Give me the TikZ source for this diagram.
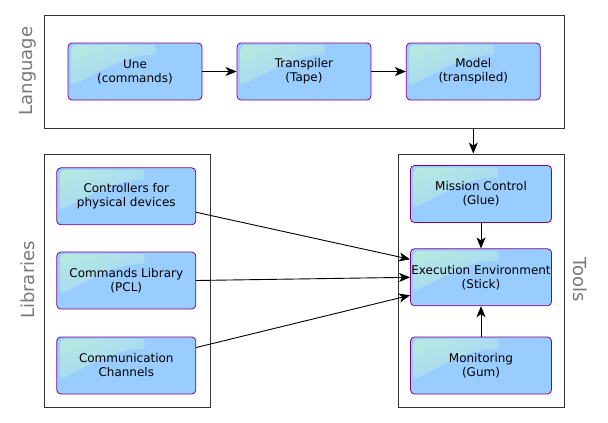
\documentclass[tikz,border=0pt]{standalone}
\usepackage{fontspec}
\setmainfont{DejaVu Sans}
\usetikzlibrary{arrows.meta, calc, shadings}
\definecolor{boxblue}{RGB}{153, 204, 255}
\definecolor{boxpurple}{RGB}{128, 0, 128}
\definecolor{shinemint}{RGB}{184, 236, 220}
\definecolor{shinesky}{RGB}{164, 214, 246}
\definecolor{shineblue}{RGB}{166, 214, 252}
\definecolor{framegray}{RGB}{51, 51, 51}
\definecolor{labelgray}{RGB}{120, 120, 120}

\begin{document}
\begin{tikzpicture}[x=1pt, y=1pt,
    module/.style={draw=boxpurple, fill=boxblue, line width=0.8pt, rounded corners=4pt,
        minimum width=134pt, minimum height=57pt, align=center, inner sep=0pt,
        font=\fontsize{12}{14}\selectfont,
        path picture={
            \shade[upper left=shinemint, upper right=shineblue, lower left=shinesky,
                lower right=boxblue, rounded corners=5pt]
                ($(path picture bounding box.north west)+(3,-43)$) -- ++(0,41) -- ++(80,0)
                arc[start angle=90, end angle=-90, radius=5]
                .. controls +(-25,-2) and +(35,18) .. cycle;
        }},
    frame/.style={draw=framegray, line width=0.8pt, inner sep=0pt},
    grouplabel/.style={text=labelgray, font=\fontsize{18}{18}\selectfont},
    link/.style={-{Stealth[length=11pt, width=9pt, inset=3pt]}, line width=0.9pt}
]
    \useasboundingbox (0,0) rectangle (608,-423);

    % Group frames
    \node[frame, minimum width=520pt, minimum height=113pt] (langframe) at (304,-71.7) {};
    \node[frame, minimum width=166pt, minimum height=253pt] (libframe) at (127,-280.5) {};
    \node[frame, minimum width=166pt, minimum height=253pt] (toolsframe) at (481,-280.5) {};

    % Group labels
    \node[grouplabel, rotate=90] (langlabel) at (28,-71) {Language};
    \node[grouplabel, rotate=90] (liblabel) at (28,-280) {Libraries};
    \node[grouplabel, rotate=-90] (toolslabel) at (580,-280) {Tools};

    % Language row
    \node[module] (une) at (135,-71.5) {Une\\(commands)};
    \node[module] (transpiler) at (304,-71.5) {Transpiler\\(Tape)};
    \node[module] (model) at (473.3,-71.5) {Model\\(transpiled)};

    % Libraries column
    \node[module, minimum width=139pt] (ctrl) at (126.3,-196.3) {Controllers for\\physical devices};
    \node[module, minimum width=139pt] (cmdlib) at (126.3,-280.5) {Commands Library\\(PCL)};
    \node[module, minimum width=139pt] (comm) at (126.3,-365.5) {Communication\\Channels};

    % Tools column
    \node[module, minimum width=141pt] (mission) at (481,-194) {Mission Control\\(Glue)};
    \node[module, minimum width=141pt] (exec) at (481,-277.3) {Execution Environment\\(Stick)};
    \node[module, minimum width=141pt] (monitor) at (481,-365.5) {Monitoring\\(Gum)};

    % Connectors
    \draw[link] (une) -- (transpiler);
    \draw[link] (transpiler) -- (model);
    \draw[link] (langframe.south -| model) -- (toolsframe.north -| model);
    \draw[link] (mission) -- (exec);
    \draw[link] (monitor) -- (exec);
    \draw[link] ([yshift=-16pt]ctrl.east) -- ([yshift=18pt]exec.west);
    \draw[link] (cmdlib.east) -- (exec.west);
    \draw[link] ([yshift=18pt]comm.east) -- ([yshift=-18pt]exec.west);
\end{tikzpicture}
\end{document}
